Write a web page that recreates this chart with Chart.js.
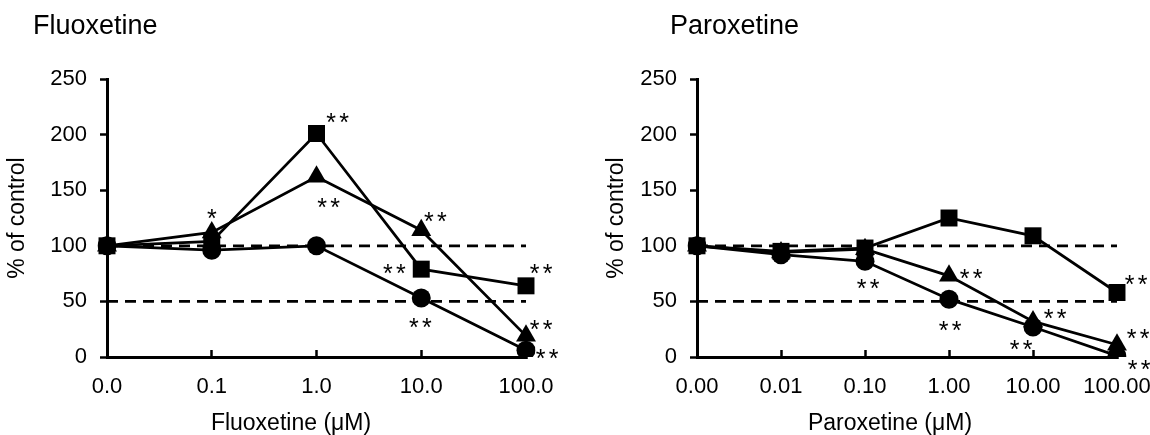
<!DOCTYPE html>
<html>
<head>
<meta charset="utf-8">
<script src="https://cdn.jsdelivr.net/npm/chart.js@4.4.1/dist/chart.umd.min.js"></script>
<style>
  html, body { margin: 0; padding: 0; background: #fff; }
  #wrap { position: relative; width: 1150px; height: 435px; }
  canvas { position: absolute; top: 0; }
  #fluox { left: 0; }
  #parox { left: 575px; }
</style>
</head>
<body>
<div id="wrap">
  <canvas id="fluox" width="575" height="435"></canvas>
  <canvas id="parox" width="575" height="435"></canvas>
</div>
<script>
// ---------- data ----------
const fluoxDoses    = ['0.0', '0.1', '1.0', '10.0', '100.0'];
const fluoxSquare   = [100, 104, 201, 79, 64];
const fluoxTriangle = [100, 112, 162, 114, 19];
const fluoxCircle   = [100, 96, 100, 53, 6];

const paroxDoses    = ['0.00', '0.01', '0.10', '1.00', '10.00', '100.00'];
const paroxSquare   = [100, 95, 98, 125, 109, 58];
const paroxTriangle = [100, 94, 97, 73, 32, 11];
const paroxCircle   = [100, 92, 86, 52, 27, 1];

const refLevels = [100, 50];          // dashed guide lines
const yMin = 0, yMax = 250, yStep = 50;

// significance marks: [series (0 square, 1 triangle, 2 circle), point index, text, dx, dy]
const fluoxStars = [
  [1, 1, '*', 0, -20],
  [0, 2, '**', 21, -17],
  [1, 2, '**', 12, 24],
  [1, 3, '**', 14, -15],
  [0, 3, '**', -27, -2],
  [2, 3, '**', -1, 23],
  [0, 4, '**', 15, -19],
  [1, 4, '**', 15, -13],
  [2, 4, '**', 21, 2],
];
const paroxStars = [
  [2, 2, '**', 3, 21],
  [1, 3, '**', 22, -4],
  [2, 3, '**', 1, 25],
  [1, 4, '**', 22, -9],
  [2, 4, '**', -12, 16],
  [0, 5, '**', 19, -15],
  [1, 5, '**', 21, -13],
  [2, 5, '**', 22, 7],
];

// ---------- drawing ----------
const FONT = '"Liberation Sans", Arial, sans-serif';
Chart.defaults.font.family = FONT;
Chart.defaults.color = '#000';

function series(data, style, r) {
  return {
    data, pointStyle: style, pointRadius: r, pointHoverRadius: r,
    borderColor: '#000', backgroundColor: '#000', pointBackgroundColor: '#000',
    pointBorderWidth: 0, borderWidth: 2.75, tension: 0,
  };
}

function panel(id, doses, sq, tri, circ, stars, o) {
  const datasets = [
    series(sq, 'rect', 12),
    series(tri, 'triangle', 11.5),
    series(circ, 'circle', 9.5),
    ...refLevels.map(v => ({
      data: doses.map(() => v), borderColor: '#000', borderWidth: 2.75,
      borderDash: [11, 7], pointRadius: 0,
    })),
  ];

  // panel heading, x-axis title and the asterisks
  const textLayer = {
    id: 'textLayer',
    afterDatasetsDraw(chart) {
      const ctx = chart.ctx;
      ctx.save();
      ctx.fillStyle = '#000';
      ctx.textBaseline = 'alphabetic';
      ctx.font = '25px ' + FONT;
      ctx.textAlign = 'center';
      stars.forEach(([s, i, txt, dx, dy]) => {
        const p = chart.getDatasetMeta(s).data[i];
        const n = txt.length, gap = 13;
        for (let k = 0; k < n; k++) {
          const x = p.x + dx + (k - (n - 1) / 2) * gap;
          ctx.fillText('*', x, p.y + dy + 15);
        }
      });
      ctx.font = '27px ' + FONT;
      ctx.textAlign = 'left';
      ctx.fillText(o.title, o.titleX, 34);
      ctx.font = '23px ' + FONT;
      ctx.textAlign = 'center';
      ctx.fillText(o.xTitle, o.xTitleX, 430);
      ctx.restore();
    },
  };

  return new Chart(document.getElementById(id), {
    type: 'line',
    data: { labels: doses, datasets },
    options: {
      responsive: false, animation: false,
      layout: { padding: { top: 79, left: o.padLeft, right: o.padRight, bottom: 0 } },
      plugins: { legend: { display: false }, tooltip: { enabled: false } },
      scales: {
        x: {
          offset: false,
          grid: { drawOnChartArea: false, drawTicks: true, tickLength: -7, tickWidth: 2.5, tickColor: '#000' },
          border: { display: true, color: '#000', width: 3 },
          ticks: { font: { size: 22 }, color: '#000', padding: 24, maxRotation: 0, autoSkip: false },
          // fixed height; the label-overflow padding is handled by layout padding
          afterFit: s => { s.height = 78; s.paddingLeft = 0; s.paddingRight = 0; },
        },
        y: {
          min: yMin, max: yMax,
          ticks: { stepSize: yStep, font: { size: 22 }, color: '#000', padding: 13 },
          grid: { drawOnChartArea: false, drawTicks: true, tickLength: 7, tickWidth: 2.5, tickColor: '#000' },
          border: { display: true, color: '#000', width: 3 },
          title: { display: true, text: '% of control', font: { size: 23 }, color: '#000', padding: { top: 4, bottom: 0 } },
          afterFit: s => { s.width = o.yWidth; },
        },
      },
    },
    plugins: [textLayer],
  });
}

panel('fluox', fluoxDoses, fluoxSquare, fluoxTriangle, fluoxCircle, fluoxStars, {
  padLeft: 0, yWidth: 107, padRight: 49,
  title: 'Fluoxetine', titleX: 33, xTitle: 'Fluoxetine (μM)', xTitleX: 291,
});
panel('parox', paroxDoses, paroxSquare, paroxTriangle, paroxCircle, paroxStars, {
  padLeft: 24, yWidth: 98, padRight: 33,
  title: 'Paroxetine', titleX: 95, xTitle: 'Paroxetine (μM)', xTitleX: 315,
});
</script>
</body>
</html>
